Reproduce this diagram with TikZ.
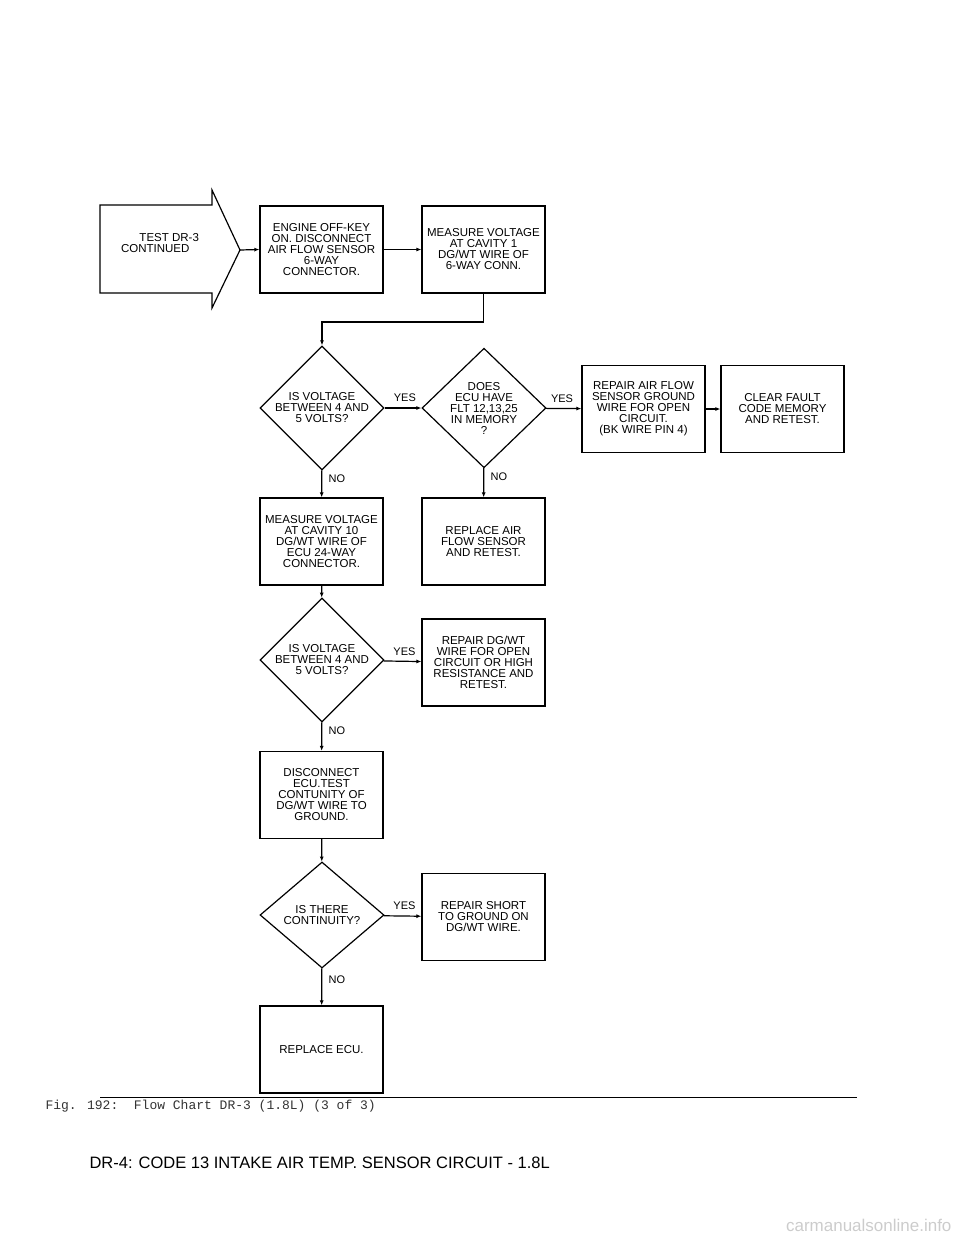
\documentclass[tikz,border=0pt]{standalone}
\usepackage{fontspec}
\setmainfont{Liberation Sans}
\newfontfamily\monof{Liberation Mono}
\usetikzlibrary{shapes.geometric,arrows.meta}
\begin{document}
\begin{tikzpicture}[x=1pt,y=-1pt,
  bx/.style={draw,line width=1.2pt,minimum width=123pt,minimum height=87pt,align=center,inner sep=0pt,font=\fontsize{11.5}{11}\selectfont},
  dm/.style={draw,line width=1.2pt,diamond,minimum width=124pt,minimum height=106pt,inner sep=0pt,align=center,font=\fontsize{11.5}{11}\selectfont},
  ar/.style={line width=1.2pt,-{Latex[length=5pt,width=4pt]}},
  lb/.style={font=\fontsize{11}{11}\selectfont}]
\useasboundingbox (0,0) rectangle (960,1242);
\draw[line width=1.2pt] (100,205) -- (212,205) -- (212,190) -- (240,250) -- (212,308) -- (212,293) -- (100,293) -- cycle;
\node[align=left,font=\fontsize{11.5}{11}\selectfont] (st) at (160,243) {\hspace*{1.6em}TEST DR-3\\CONTINUED};
\node[bx] (b1) at (321.5,249.5) {ENGINE OFF-KEY\\ON. DISCONNECT\\AIR FLOW SENSOR\\6-WAY\\CONNECTOR.};
\node[bx] (b2) at (483.5,249.5) {MEASURE VOLTAGE\\AT CAVITY 1\\DG/WT WIRE OF\\6-WAY CONN.};
\coordinate (tip) at (240,250);
\draw[ar] (tip) -- (b1.west);
\draw[ar] (b1) -- (b2);
\node[dm] (d1) at (322,408) {IS VOLTAGE\\BETWEEN 4 AND\\5 VOLTS?};
\node[dm] (d2) at (484,408) {DOES\\ECU HAVE\\FLT 12,13,25\\IN MEMORY\\?};
\draw[ar] (b2.south) |- (322,322) -- (d1.north);
\node[bx] (b3) at (643.5,409) {REPAIR AIR FLOW\\SENSOR GROUND\\WIRE FOR OPEN\\CIRCUIT.\\(BK WIRE PIN 4)};
\node[bx] (b4) at (782.5,409) {CLEAR FAULT\\CODE MEMORY\\AND RETEST.};
\draw[ar] (d1) -- node[lb,above,pos=0.55,yshift=2pt]{YES} (d2);
\draw[ar] (d2) -- node[lb,above,pos=0.45,yshift=2pt]{YES} (b3);
\draw[ar] (b3) -- (b4);
\node[bx] (b5) at (321.5,541.5) {MEASURE VOLTAGE\\AT CAVITY 10\\DG/WT WIRE OF\\ECU 24-WAY\\CONNECTOR.};
\node[bx] (b6) at (483.5,541.5) {REPLACE AIR\\FLOW SENSOR\\AND RETEST.};
\draw[ar] (d1) -- node[lb,right,pos=0.3,xshift=3pt]{NO} (b5);
\draw[ar] (d2) -- node[lb,right,pos=0.3,xshift=3pt]{NO} (b6);
\node[dm] (d3) at (322,660) {IS VOLTAGE\\BETWEEN 4 AND\\5 VOLTS?};
\node[bx] (b7) at (483.5,662.5) {REPAIR DG/WT\\WIRE FOR OPEN\\CIRCUIT OR HIGH\\RESISTANCE AND\\RETEST.};
\draw[ar] (b5) -- (d3);
\draw[ar] (d3) -- node[lb,above,pos=0.55,yshift=2pt]{YES} (b7);
\node[bx] (b8) at (321.5,795) {DISCONNECT\\ECU.TEST\\CONTUNITY OF\\DG/WT WIRE TO\\GROUND.};
\draw[ar] (d3) -- node[lb,right,pos=0.3,xshift=3pt]{NO} (b8);
\node[dm] (d4) at (322,915) {IS THERE\\CONTINUITY?};
\node[bx] (b9) at (483.5,917) {REPAIR SHORT\\TO GROUND ON\\DG/WT WIRE.};
\draw[ar] (b8) -- (d4);
\draw[ar] (d4) -- node[lb,above,pos=0.55,yshift=2pt]{YES} (b9);
\node[bx] (b10) at (321.5,1049.5) {REPLACE ECU.};
\draw[ar] (d4) -- node[lb,right,pos=0.3,xshift=3pt]{NO} (b10);
\draw[line width=0.6pt] (100,1097) -- (857,1097);
\node[anchor=west,font=\monof\fontsize{13}{13}\selectfont,text=black!80] (cap) at (42,1106) {Fig. 192:\ \ Flow Chart DR-3 (1.8L) (3 of 3)};
\node[anchor=west,font=\fontsize{16.5}{16}\selectfont] (hd) at (86,1163) {DR-4: CODE 13 INTAKE AIR TEMP. SENSOR CIRCUIT - 1.8L};
\node[anchor=east,font=\fontsize{17}{17}\selectfont,text=black!20] (wm) at (955,1225) {carmanualsonline.info};
\end{tikzpicture}
\end{document}
